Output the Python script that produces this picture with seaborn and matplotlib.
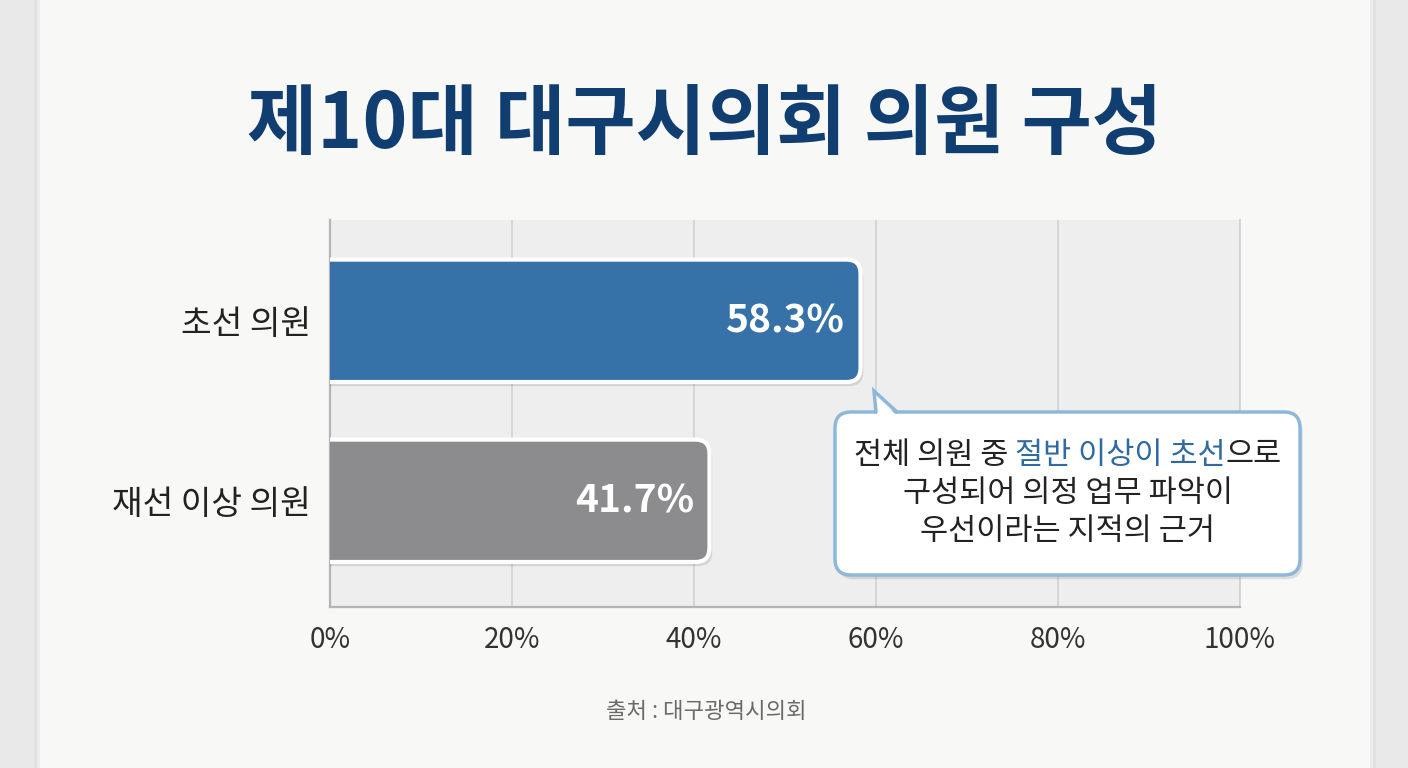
import matplotlib
matplotlib.use("Agg")
import matplotlib.pyplot as plt
import matplotlib.patches as mpatches
import matplotlib.patheffects as pe
from matplotlib.lines import Line2D
from matplotlib.transforms import IdentityTransform
import seaborn as sns
import pandas as pd

# data
categories = ["초선 의원", "재선 이상 의원"]
shares = [58.3, 41.7]
bar_colors = ["#3671a8", "#8c8c8e"]
xticks = [0, 20, 40, 60, 80, 100]
tick_labels = ["0%", "20%", "40%", "60%", "80%", "100%"]
title = "제10대 대구시의회 의원 구성"
note_first = ["전체 의원 중", "절반 이상이 초선", "으로"]
note_first_colors = ["#222222", "#2f6aa3", "#222222"]
note_rest = ["구성되어 의정 업무 파악이", "우선이라는 지적의 근거"]
source = "출처 : 대구광역시의회"

W, H = 1408, 768

sns.set_theme(style="white")
plt.rcParams["font.family"] = ["Noto Sans CJK KR", "DejaVu Sans"]

fig = plt.figure(figsize=(W / 100, H / 100), dpi=100, facecolor="#e9e9e9")

# paper card with a soft edge
for grow, col in [(6, "#e2e2e2"), (3, "#ececec")]:
    fig.add_artist(mpatches.Rectangle((40 - grow, -10), 1330 + 2 * grow, H + 20,
                                      transform=IdentityTransform(), fc=col, ec="none", zorder=0))
fig.add_artist(mpatches.Rectangle((40, -10), 1330, H + 20, transform=IdentityTransform(),
                                  fc="#f8f8f7", ec="none", zorder=0))

ax = fig.add_axes([330 / W, 1 - 607 / H, 910 / W, 387 / H])
ax.set_facecolor("#eeeeee")

df = pd.DataFrame({"category": categories, "share": shares})
sns.barplot(data=df, x="share", y="category", hue="category", palette=bar_colors,
            legend=False, width=0.68, saturation=1, ax=ax, zorder=3)

ax.set_xlim(0, 100)
ax.set_ylim(1.59, -0.56)
ax.set_xticks(xticks)
ax.set_xticklabels(tick_labels)
ax.set_xlabel("")
ax.set_ylabel("")
ax.xaxis.grid(True, color="#d2d2d2", lw=1.2)
ax.set_axisbelow(True)
ax.spines["top"].set_visible(False)
ax.spines["right"].set_color("#d2d2d2")
for s in ["left", "bottom"]:
    ax.spines[s].set_color("#b4b4b4")
    ax.spines[s].set_linewidth(1.6)
ax.tick_params(axis="y", length=0, pad=14, labelsize=24, labelcolor="#222222")
ax.tick_params(axis="x", length=0, pad=13, labelsize=20, labelcolor="#333333")

# swap the plain bars for bars with a rounded end
xpx = 910 / 100
ypx = 387 / 2.15
r = 14 / xpx
for p in list(ax.patches):
    x0, y0, w, h = p.get_x(), p.get_y(), p.get_width(), p.get_height()
    fc = p.get_facecolor()
    p.remove()
    bar = mpatches.FancyBboxPatch((x0 - 2 * r, y0), w + 2 * r, h,
                                  boxstyle=f"round,pad=0,rounding_size={r}",
                                  mutation_aspect=xpx / ypx, fc=fc, ec="white", lw=3, zorder=3)
    bar.set_path_effects([pe.SimplePatchShadow(offset=(2, -3), shadow_rgbFace="k", alpha=0.12),
                          pe.Normal()])
    ax.add_patch(bar)

for i, v in enumerate(shares):
    ax.text(v - 1.7, i, f"{v:.1f}%", ha="right", va="center", color="white",
            fontsize=28, fontweight="bold", zorder=4)

fig.text(705 / W, 1 - 125 / H, title, ha="center", va="center", fontsize=55,
         fontweight="heavy", color="#113e70")

# callout box
border = "#8db8d9"
box = mpatches.FancyBboxPatch((835, H - 575), 465, 163, boxstyle="round,pad=0,rounding_size=16",
                              transform=IdentityTransform(), fc="white", ec=border, lw=2.5, zorder=5)
box.set_path_effects([pe.SimplePatchShadow(offset=(2, -3), shadow_rgbFace="k", alpha=0.12),
                      pe.Normal()])
fig.add_artist(box)
tail = [(876, H - 412), (874, H - 391), (897, H - 412)]
fig.add_artist(mpatches.Polygon([(877, H - 414), (875, H - 393), (895, H - 414)],
                                transform=IdentityTransform(), fc="white", ec="none", zorder=6))
fig.add_artist(Line2D([t[0] for t in tail], [t[1] for t in tail], color=border, lw=2.5,
                      transform=IdentityTransform(), zorder=6, solid_joinstyle="miter"))

cx = 1068
fs = 22
pieces = [fig.text(0, 0, s, color=c, fontsize=fs, ha="left", va="center",
                   transform=IdentityTransform(), zorder=7)
          for s, c in zip(note_first, note_first_colors)]
fig.canvas.draw()
rend = fig.canvas.get_renderer()
widths = [t.get_window_extent(rend).width for t in pieces]
probe_a = fig.text(0, 0, "전 전", fontsize=fs)
probe_b = fig.text(0, 0, "전전", fontsize=fs)
space = probe_a.get_window_extent(rend).width - probe_b.get_window_extent(rend).width
probe_a.remove()
probe_b.remove()
gaps = [space, 0]
total = sum(widths) + sum(gaps)
x = cx - total / 2
for k, t in enumerate(pieces):
    t.set_position((x, H - 455))
    x += widths[k] + (gaps[k] if k < len(gaps) else 0)

for line, yimg in zip(note_rest, [493, 532]):
    fig.text(cx, H - yimg, line, color="#222222", fontsize=fs, ha="center", va="center",
             transform=IdentityTransform(), zorder=7)

fig.text(706 / W, 1 - 712 / H, source, ha="center", va="center", fontsize=16, color="#6a6a6a")

fig.savefig("out.png", dpi=100, facecolor=fig.get_facecolor())
